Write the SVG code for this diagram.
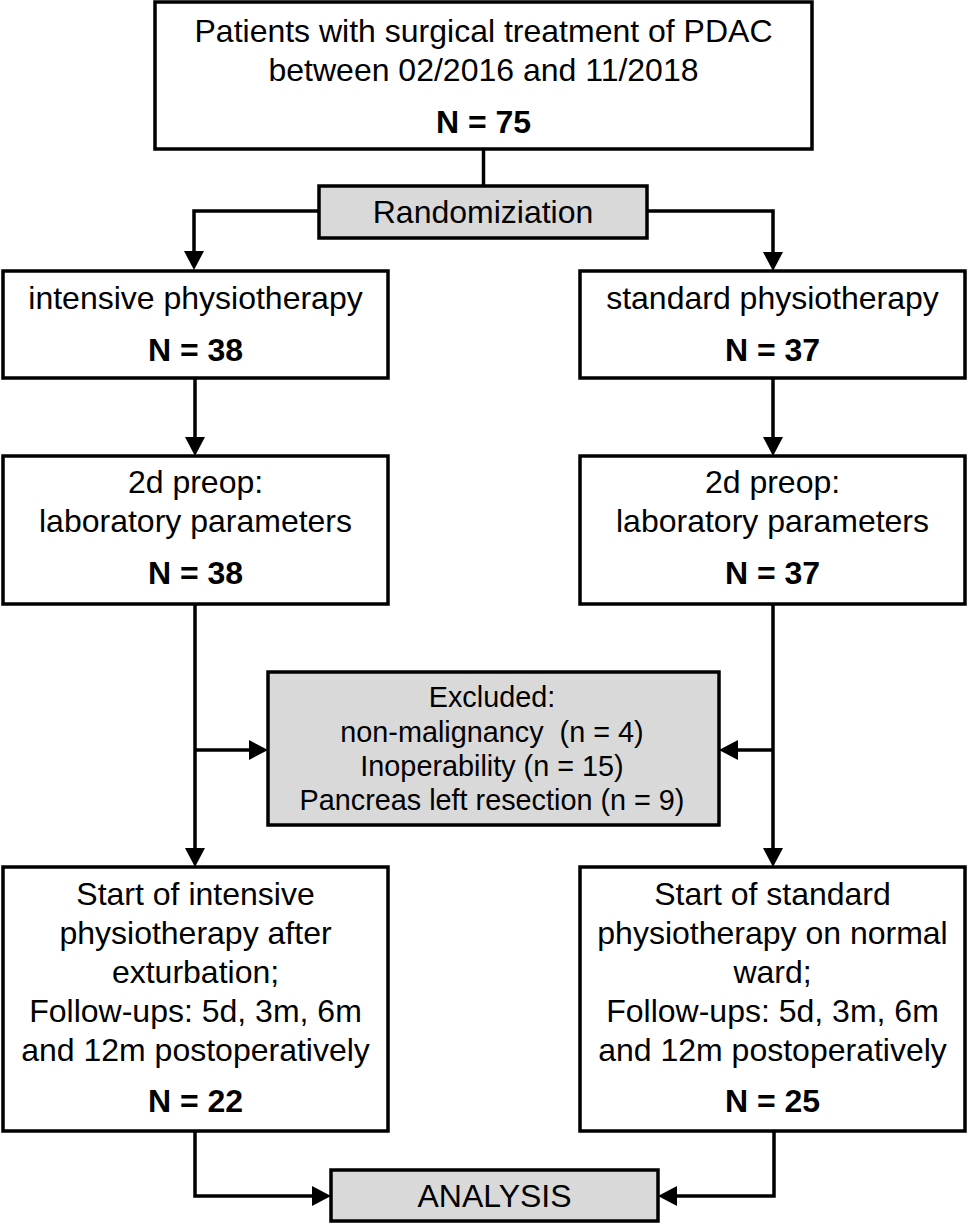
<svg xmlns="http://www.w3.org/2000/svg" width="968" height="1226" viewBox="0 0 968 1226">
<style>
  .box { fill: #ffffff; stroke: #000000; stroke-width: 3.5; }
  .grey { fill: #d9d9d9; stroke: #000000; stroke-width: 3.5; }
  .t { font-family: "Liberation Sans", Arial, sans-serif; font-size: 32px; fill: #000000; text-anchor: middle; }
  .b { font-weight: bold; }
  .s { font-size: 28.8px; }
  .line { fill: none; stroke: #000000; stroke-width: 3.5; }
  .arr { marker-end: url(#ah); }
</style>
<defs>
  <marker id="ah" markerUnits="userSpaceOnUse" markerWidth="22" markerHeight="22" refX="10" refY="11" orient="auto" viewBox="0 0 22 22">
    <path d="M0,1 L19,11 L0,21 z" fill="#000000"/>
  </marker>
</defs>
<rect width="968" height="1226" fill="#ffffff"/>

<g id="connectors">
  <path class="line" d="M483.5,149 V186"/>
  <path class="line arr" d="M319,211 H194 V261"/>
  <path class="line arr" d="M647,211 H773 V262"/>
  <path class="line arr" d="M195,378 V447"/>
  <path class="line arr" d="M773,378 V447"/>
  <path class="line arr" d="M195,604 V858"/>
  <path class="line arr" d="M773,604 V858"/>
  <path class="line arr" d="M195,750 H259"/>
  <path class="line arr" d="M773,750 H728"/>
  <path class="line arr" d="M195,1131 V1196 H322"/>
  <path class="line arr" d="M774,1131 V1196 H667"/>
</g>

<g id="n-total">
  <rect class="box" x="155" y="2" width="657" height="147"/>
  <text class="t" x="483.5" y="42">Patients with surgical treatment of PDAC</text>
  <text class="t" x="483.5" y="81">between 02/2016 and 11/2018</text>
  <text class="t b" x="483.5" y="133">N = 75</text>
</g>

<g id="n-random">
  <rect class="grey" x="319" y="186" width="328" height="52"/>
  <text class="t" x="483" y="223">Randomiziation</text>
</g>

<g id="n-intensive">
  <rect class="box" x="3" y="271" width="385" height="107"/>
  <text class="t" x="195.5" y="309">intensive physiotherapy</text>
  <text class="t b" x="195.5" y="361">N = 38</text>
</g>

<g id="n-standard">
  <rect class="box" x="580" y="271" width="385" height="107"/>
  <text class="t" x="772.5" y="309">standard physiotherapy</text>
  <text class="t b" x="772.5" y="361">N = 37</text>
</g>

<g id="n-preop-left">
  <rect class="box" x="3" y="456" width="385" height="148"/>
  <text class="t" x="195.5" y="493">2d preop:</text>
  <text class="t" x="195.5" y="532">laboratory parameters</text>
  <text class="t b" x="195.5" y="584">N = 38</text>
</g>

<g id="n-preop-right">
  <rect class="box" x="580" y="456" width="385" height="148"/>
  <text class="t" x="772.5" y="493">2d preop:</text>
  <text class="t" x="772.5" y="532">laboratory parameters</text>
  <text class="t b" x="772.5" y="584">N = 37</text>
</g>

<g id="n-excluded">
  <rect class="grey" x="268" y="672" width="451" height="153"/>
  <text class="t s" x="492" y="707">Excluded:</text>
  <text class="t s" x="492" y="742" xml:space="preserve">non-malignancy  (n = 4)</text>
  <text class="t s" x="492" y="776">Inoperability (n = 15)</text>
  <text class="t s" x="492" y="810">Pancreas left resection (n = 9)</text>
</g>

<g id="n-start-left">
  <rect class="box" x="3" y="867" width="385" height="264"/>
  <text class="t" x="195.5" y="905">Start of intensive</text>
  <text class="t" x="195.5" y="944">physiotherapy after</text>
  <text class="t" x="195.5" y="983">exturbation;</text>
  <text class="t" x="195.5" y="1022">Follow-ups: 5d, 3m, 6m</text>
  <text class="t" x="195.5" y="1061">and 12m postoperatively</text>
  <text class="t b" x="195.5" y="1112">N = 22</text>
</g>

<g id="n-start-right">
  <rect class="box" x="580" y="867" width="385" height="264"/>
  <text class="t" x="772.5" y="905">Start of standard</text>
  <text class="t" x="772.5" y="944">physiotherapy on normal</text>
  <text class="t" x="772.5" y="983">ward;</text>
  <text class="t" x="772.5" y="1022">Follow-ups: 5d, 3m, 6m</text>
  <text class="t" x="772.5" y="1061">and 12m postoperatively</text>
  <text class="t b" x="772.5" y="1112">N = 25</text>
</g>

<g id="n-analysis">
  <rect class="grey" x="331" y="1170" width="327" height="51"/>
  <text class="t" x="494.5" y="1207">ANALYSIS</text>
</g>
</svg>
